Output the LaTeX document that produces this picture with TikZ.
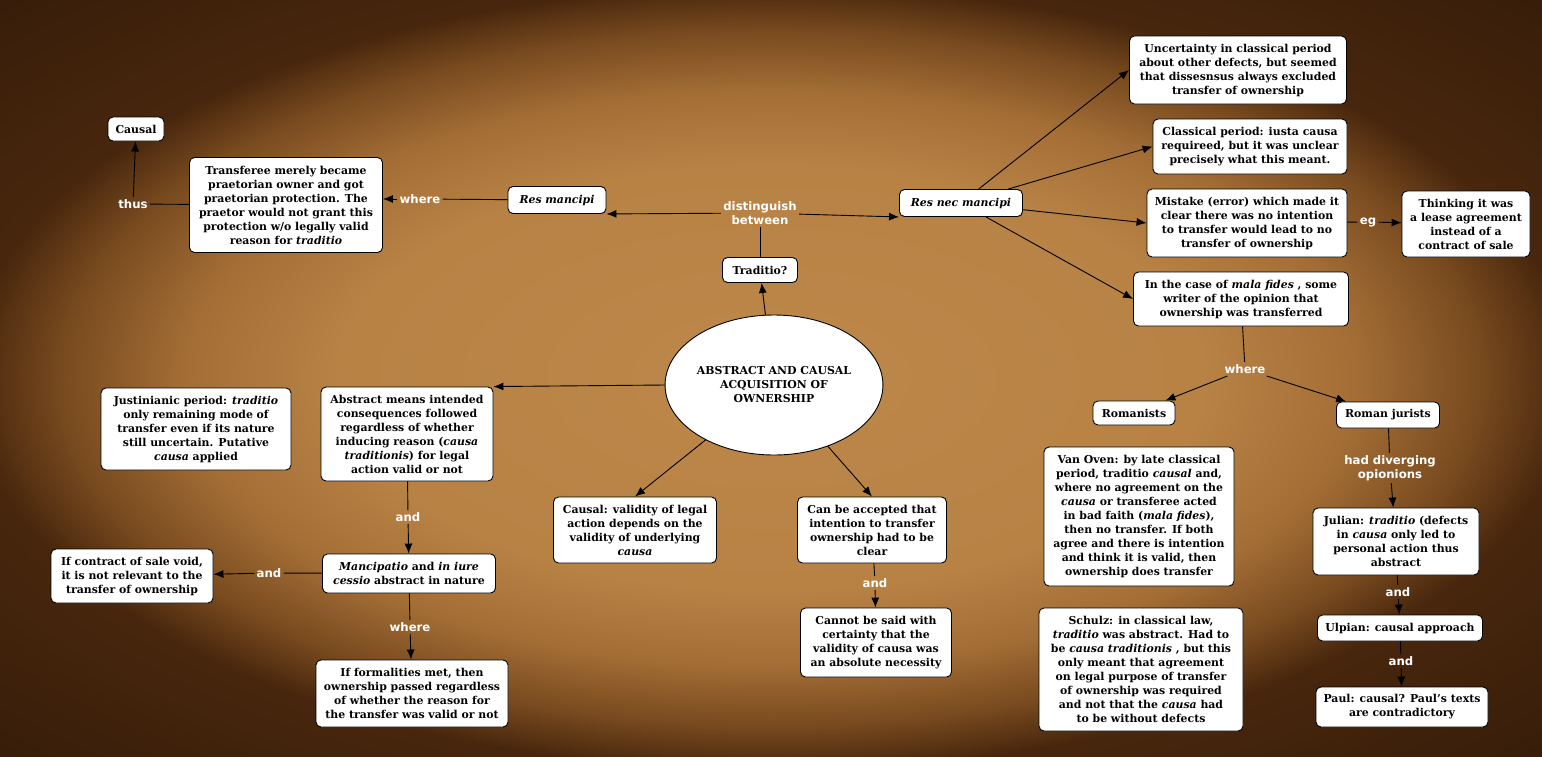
\documentclass[tikz,border=0pt]{standalone}
\usepackage{fontspec}
\setmainfont{DejaVu Serif}
\newfontfamily\linkfont{DejaVu Sans}
\usetikzlibrary{arrows.meta,shapes.geometric}
\pgfdeclareradialshading{wood}{\pgfpoint{0bp}{0bp}}{rgb(0bp)=(0.74,0.53,0.29);rgb(14bp)=(0.72,0.51,0.27);rgb(19bp)=(0.64,0.43,0.21);rgb(23bp)=(0.47,0.29,0.12);rgb(26bp)=(0.28,0.15,0.05);rgb(50bp)=(0.12,0.06,0.02)}

\begin{document}
\begin{tikzpicture}[x=1pt,y=-1pt,>={Latex[length=10pt,width=8pt]},line width=0.9pt,
  concept/.style={draw, fill=white, rounded corners=5pt, align=center, inner sep=2pt,
    font=\bfseries\fontsize{10.9}{14}\selectfont},
  core/.style={draw, fill=white, ellipse, align=center, inner sep=0pt,
    font=\bfseries\fontsize{10.9}{14}\selectfont},
  link/.style={text=white, align=center, inner sep=2pt,
    font=\linkfont\bfseries\fontsize{11.7}{14}\selectfont}]
  \shade[shading=wood] (0,0) rectangle (1542,756);
  \useasboundingbox (0,0) rectangle (1542,756);

  \node[core, minimum width=214pt, minimum height=140pt] (core) at (774,385) {ABSTRACT AND CAUSAL\\ACQUISITION OF\\OWNERSHIP};
  \node[concept, minimum width=75pt, minimum height=25pt]  (trad)     at (760,270)   {Traditio?};
  \node[concept, minimum width=98pt, minimum height=27pt]  (resm)     at (557,200)   {\textit{Res mancipi}};
  \node[concept, minimum width=123pt, minimum height=27pt] (resnec)   at (961,203)   {\textit{Res nec mancipi}};
  \node[concept, minimum width=56pt, minimum height=24pt]  (causal)   at (136,129)   {Causal};
  \node[concept, minimum width=193pt, minimum height=95pt] (transf)   at (286,205)   {Transferee merely became\\praetorian owner and got\\praetorian protection. The\\praetor would not grant this\\protection w/o legally valid\\reason for \textit{traditio}};
  \node[concept, minimum width=217pt, minimum height=68pt] (uncert)   at (1238,70)   {Uncertainty in classical period\\about other defects, but seemed\\that dissesnsus always excluded\\transfer of ownership};
  \node[concept, minimum width=194pt, minimum height=55pt] (classic)  at (1250,146.5) {Classical period: iusta causa\\requireed, but it was unclear\\precisely what this meant.};
  \node[concept, minimum width=200pt, minimum height=68pt] (mistake)  at (1247,223)  {Mistake (error) which made it\\clear there was no intention\\to transfer would lead to no\\transfer of ownership};
  \node[concept, minimum width=128pt, minimum height=66pt] (thinking) at (1466,224)  {Thinking it was\\a lease agreement\\instead of a\\contract of sale};
  \node[concept, minimum width=215pt, minimum height=54pt] (malaf)    at (1241,299)  {In the case of \textit{mala fides} , some\\writer of the opinion that\\ownership was transferred};
  \node[concept, minimum width=82pt, minimum height=24pt]  (romanists) at (1134,413) {Romanists};
  \node[concept, minimum width=103pt, minimum height=26pt] (jurists)  at (1388,415)  {Roman jurists};
  \node[concept, minimum width=166pt, minimum height=67pt] (julian)   at (1396,541.5) {Julian: \textit{traditio} (defects\\in \textit{causa} only led to\\personal action thus\\abstract};
  \node[concept, minimum width=165pt, minimum height=26pt] (ulpian)   at (1400,628)  {Ulpian: causal approach};
  \node[concept, minimum width=172pt, minimum height=40pt] (paul)     at (1402,707)  {Paul: causal? Paul's texts\\are contradictory};
  \node[concept, minimum width=190pt, minimum height=139pt] (vanoven) at (1139,516.5) {Van Oven: by late classical\\period, traditio \textit{causal} and,\\where no agreement on the\\\textit{causa} or transferee acted\\in bad faith (\textit{mala fides}),\\then no transfer. If both\\agree and there is intention\\and think it is valid, then\\ownership does transfer};
  \node[concept, minimum width=204pt, minimum height=123pt] (schulz)  at (1141,669.5) {Schulz: in classical law,\\\textit{traditio} was abstract. Had to\\be \textit{causa traditionis} , but this\\only meant that agreement\\on legal purpose of transfer\\of ownership was required\\and not that the \textit{causa} had\\to be without defects};
  \node[concept, minimum width=190pt, minimum height=82pt] (justin)   at (196,429)   {Justinianic period: \textit{traditio}\\only remaining mode of\\transfer even if its nature\\still uncertain. Putative\\\textit{causa} applied};
  \node[concept, minimum width=172pt, minimum height=94pt] (abstract) at (407,434)   {Abstract means intended\\consequences followed\\regardless of whether\\inducing reason (\textit{causa}\\\textit{traditionis}) for legal\\action valid or not};
  \node[concept, minimum width=173pt, minimum height=39pt] (mancip)   at (409,573.5) {\textit{Mancipatio} and \textit{in iure}\\\textit{cessio} abstract in nature};
  \node[concept, minimum width=162pt, minimum height=54pt] (ifcontract) at (132,576) {If contract of sale void,\\it is not relevant to the\\transfer of ownership};
  \node[concept, minimum width=192pt, minimum height=67pt] (formal)   at (412,693.5) {If formalities met, then\\ownership passed regardless\\of whether the reason for\\the transfer was valid or not};
  \node[concept, minimum width=163pt, minimum height=66pt] (causalv)  at (635,530)   {Causal: validity of legal\\action depends on the\\validity of underlying\\\textit{causa}};
  \node[concept, minimum width=149pt, minimum height=66pt] (canacc)   at (872,530)   {Can be accepted that\\intention to transfer\\ownership had to be\\clear};
  \node[concept, minimum width=151pt, minimum height=69pt] (cannot)   at (876,642.5) {Cannot be said with\\certainty that the\\validity of causa was\\an absolute necessity};

  \node[link] (dist)   at (760,213)  {distinguish\\between};
  \node[link] (where1) at (420,199)  {where};
  \node[link] (thus)   at (133,204)  {thus};
  \node[link] (eg)     at (1368,222) {eg};
  \node[link] (where2) at (1245,369) {where};
  \node[link] (diverg) at (1390,468) {had diverging\\opionions};
  \node[link] (and1)   at (1398,592) {and};
  \node[link] (and2)   at (1401,661) {and};
  \node[link] (and3)   at (408,517)  {and};
  \node[link] (and4)   at (269,573)  {and};
  \node[link] (where3) at (410,627)  {where};
  \node[link] (and5)   at (875,583)  {and};

  \draw[->] (core) -- (trad);
  \draw (trad) -- (dist);
  \draw[->] (dist) -- (resm.south east);
  \draw[->] (dist) -- (resnec.south west);
  \draw (resm) -- (where1);
  \draw[->] (where1) -- (transf.east |- where1);
  \draw (transf) -- (thus);
  \draw[->] (thus) -- (causal);
  \draw[->] (resnec) -- (uncert.west);
  \draw[->] (resnec) -- (classic.west);
  \draw[->] (resnec) -- (mistake.west);
  \draw[->] (resnec) -- (malaf.west);
  \draw (mistake) -- (eg);
  \draw[->] (eg) -- (thinking);
  \draw (malaf) -- (where2);
  \draw[->] (where2) -- (romanists);
  \draw[->] (where2) -- (jurists);
  \draw (jurists) -- (diverg);
  \draw[->] (diverg) -- (julian);
  \draw (julian) -- (and1);
  \draw[->] (and1) -- (ulpian);
  \draw (ulpian) -- (and2);
  \draw[->] (and2) -- (paul);
  \draw[->] (core.west) -- (abstract.north east);
  \draw (abstract) -- (and3);
  \draw[->] (and3) -- (mancip);
  \draw (mancip) -- (and4);
  \draw[->] (and4) -- (ifcontract);
  \draw (mancip) -- (where3);
  \draw[->] (where3) -- (formal);
  \draw[->] (core) -- (causalv.north);
  \draw[->] (core) -- (canacc.north);
  \draw (canacc) -- (and5);
  \draw[->] (and5) -- (cannot);
\end{tikzpicture}
\end{document}
